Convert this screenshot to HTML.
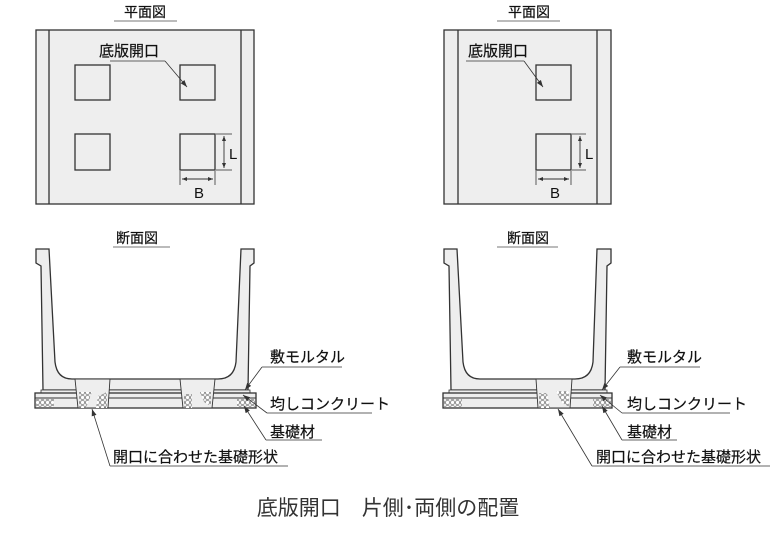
<!DOCTYPE html>
<html><head><meta charset="utf-8"><style>
html,body{margin:0;padding:0;background:#fff;width:784px;height:534px;overflow:hidden}
svg{display:block}
text{font-family:"Liberation Sans","Noto Sans CJK JP",sans-serif;fill:#111;stroke:none}
.t{stroke:#111;stroke-width:0.2}
</style></head><body>
<svg width="784" height="534" viewBox="0 0 784 534" xmlns="http://www.w3.org/2000/svg">
<defs>
<marker id="ar" markerWidth="8" markerHeight="8" refX="7" refY="4" orient="auto" markerUnits="userSpaceOnUse"><path d="M0,1.5 L7,4 L0,6.5 Z" fill="#333"/></marker>
<marker id="da" markerWidth="6" markerHeight="6" refX="5" refY="3" orient="auto-start-reverse" markerUnits="userSpaceOnUse"><path d="M0,1 L5,3 L0,5 Z" fill="#333"/></marker>
<pattern id="dots" width="5" height="5" patternUnits="userSpaceOnUse"><circle cx="2.5" cy="2.5" r="2" fill="#fff" stroke="#555" stroke-width="0.6"/></pattern>
</defs>
<g stroke="#333" stroke-width="1.3" fill="none">
<!-- left plan -->
<text class="t" x="145" y="17" font-size="14" text-anchor="middle">平面図</text>
<line x1="114" y1="21" x2="177" y2="21" stroke="#777" stroke-width="1"/>
<rect x="36" y="30" width="218" height="174" fill="#eeeeee"/>
<line x1="49" y1="30" x2="49" y2="204"/><line x1="241" y1="30" x2="241" y2="204"/>
<rect x="75" y="65" width="35" height="35"/><rect x="180" y="65" width="35" height="35"/>
<rect x="75" y="134" width="35" height="36"/><rect x="180" y="134" width="35" height="36"/>
<text class="t" x="99" y="56" font-size="15">底版開口</text>
<line x1="110" y1="61" x2="165" y2="61" stroke-width="0.8"/>
<line x1="165" y1="61" x2="187" y2="87" stroke-width="0.8" marker-end="url(#ar)"/>
<line x1="216" y1="134" x2="232" y2="134" stroke-width="0.8"/><line x1="216" y1="170" x2="232" y2="170" stroke-width="0.8"/>
<line x1="224" y1="136" x2="224" y2="168" stroke-width="0.9" marker-start="url(#da)" marker-end="url(#da)"/>
<text x="229" y="159" font-size="15">L</text>
<line x1="180" y1="171" x2="180" y2="185" stroke-width="0.8"/><line x1="215" y1="171" x2="215" y2="185" stroke-width="0.8"/>
<line x1="182" y1="179" x2="213" y2="179" stroke-width="0.9" marker-start="url(#da)" marker-end="url(#da)"/>
<text x="199" y="198" font-size="15" text-anchor="middle">B</text>

<!-- right plan -->
<text class="t" x="529" y="17" font-size="14" text-anchor="middle">平面図</text>
<line x1="497" y1="21" x2="560" y2="21" stroke="#777" stroke-width="1"/>
<rect x="444" y="30" width="167" height="174" fill="#eeeeee"/>
<line x1="458" y1="30" x2="458" y2="204"/><line x1="597" y1="30" x2="597" y2="204"/>
<rect x="536" y="65" width="35" height="35"/><rect x="536" y="134" width="35" height="36"/>
<text class="t" x="468" y="56" font-size="15">底版開口</text>
<line x1="466" y1="61" x2="524" y2="61" stroke-width="0.8"/>
<line x1="524" y1="61" x2="543" y2="87" stroke-width="0.8" marker-end="url(#ar)"/>
<line x1="572" y1="134" x2="586" y2="134" stroke-width="0.8"/><line x1="572" y1="170" x2="586" y2="170" stroke-width="0.8"/>
<line x1="580" y1="136" x2="580" y2="168" stroke-width="0.9" marker-start="url(#da)" marker-end="url(#da)"/>
<text x="585" y="159" font-size="15">L</text>
<line x1="536" y1="171" x2="536" y2="185" stroke-width="0.8"/><line x1="571" y1="171" x2="571" y2="185" stroke-width="0.8"/>
<line x1="538" y1="179" x2="569" y2="179" stroke-width="0.9" marker-start="url(#da)" marker-end="url(#da)"/>
<text x="555" y="198" font-size="15" text-anchor="middle">B</text>

<!-- left section -->
<text class="t" x="137" y="243" font-size="14" text-anchor="middle">断面図</text>
<line x1="113" y1="247" x2="170" y2="247" stroke="#777" stroke-width="1"/>
<path d="M36,249 L49,249 L55,362 Q57,379 72,379 L218,379 Q234,379 236,362 L241,249 L254,249 L254,263 L250,266 L248,390 L43,390 L41,266 L36,263 Z" fill="#eeeeee"/>
<rect x="41" y="390" width="209" height="3" fill="#eeeeee" stroke-width="0.8"/>
<rect x="35" y="393" width="221" height="15" fill="#eeeeee"/>
<line x1="35" y1="398" x2="256" y2="398" stroke-width="0.9"/>
<rect x="36" y="399" width="18" height="8" fill="url(#dots)" stroke="none"/>
<rect x="237" y="399" width="18" height="8" fill="url(#dots)" stroke="none"/>
<path d="M75,379 L78,408 L108,408 L110,379 Z" fill="#eeeeee" stroke-width="0.9"/>
<path d="M180,379 L183,408 L212,408 L215,379 Z" fill="#eeeeee" stroke-width="0.9"/>
<path d="M79,392 L92,392 L86,408 L79,408 Z" fill="url(#dots)" stroke="none"/>
<path d="M98,396 L107,392 L107,408 L96,408 Z" fill="url(#dots)" stroke="none"/>
<path d="M184,394 L192,394 L192,408 L184,408 Z" fill="url(#dots)" stroke="none"/>
<path d="M200,392 L211,392 L211,406 L204,402 Z" fill="url(#dots)" stroke="none"/>
<!-- left labels -->
<text class="t" x="270" y="362" font-size="15">敷モルタル</text>
<line x1="262" y1="367" x2="342" y2="367" stroke-width="0.8"/>
<line x1="262" y1="367" x2="245" y2="390" stroke-width="0.8" marker-end="url(#ar)"/>
<text class="t" x="270" y="409" font-size="15">均しコンクリート</text>
<line x1="267" y1="413" x2="372" y2="413" stroke-width="0.8"/>
<line x1="267" y1="413" x2="243" y2="395" stroke-width="0.8" marker-end="url(#ar)"/>
<text class="t" x="270" y="437" font-size="15">基礎材</text>
<line x1="266" y1="440" x2="322" y2="440" stroke-width="0.8"/>
<line x1="266" y1="440" x2="244" y2="406" stroke-width="0.8" marker-end="url(#ar)"/>
<text class="t" x="113" y="462" font-size="15">開口に合わせた基礎形状</text>
<line x1="110" y1="466" x2="288" y2="466" stroke-width="0.8"/>
<line x1="110" y1="466" x2="92" y2="409" stroke-width="0.8" marker-end="url(#ar)"/>

<!-- right section -->
<text class="t" x="528" y="243" font-size="14" text-anchor="middle">断面図</text>
<line x1="497" y1="247" x2="558" y2="247" stroke="#777" stroke-width="1"/>
<path d="M444,249 L457,249 L463,362 Q465,379 480,379 L575,379 Q591,379 593,362 L597,249 L611,249 L611,263 L607,266 L605,390 L451,390 L449,266 L444,263 Z" fill="#eeeeee"/>
<rect x="449" y="390" width="158" height="3" fill="#eeeeee" stroke-width="0.8"/>
<rect x="443" y="393" width="169" height="15" fill="#eeeeee"/>
<line x1="443" y1="398" x2="612" y2="398" stroke-width="0.9"/>
<rect x="444" y="399" width="18" height="8" fill="url(#dots)" stroke="none"/>
<rect x="593" y="399" width="18" height="8" fill="url(#dots)" stroke="none"/>
<path d="M536,379 L538,408 L570,408 L572,379 Z" fill="#eeeeee" stroke-width="0.9"/>
<path d="M539,393 L547,393 L550,408 L539,408 Z" fill="url(#dots)" stroke="none"/>
<path d="M556,391 L569,391 L569,407 L562,403 Z" fill="url(#dots)" stroke="none"/>
<text class="t" x="627" y="362" font-size="15">敷モルタル</text>
<line x1="620" y1="367" x2="700" y2="367" stroke-width="0.8"/>
<line x1="620" y1="367" x2="602" y2="390" stroke-width="0.8" marker-end="url(#ar)"/>
<text class="t" x="627" y="409" font-size="15">均しコンクリート</text>
<line x1="622" y1="413" x2="730" y2="413" stroke-width="0.8"/>
<line x1="622" y1="413" x2="600" y2="395" stroke-width="0.8" marker-end="url(#ar)"/>
<text class="t" x="627" y="437" font-size="15">基礎材</text>
<line x1="622" y1="440" x2="677" y2="440" stroke-width="0.8"/>
<line x1="622" y1="440" x2="602" y2="406" stroke-width="0.8" marker-end="url(#ar)"/>
<text class="t" x="596" y="462" font-size="15">開口に合わせた基礎形状</text>
<line x1="592" y1="466" x2="770" y2="466" stroke-width="0.8"/>
<line x1="592" y1="466" x2="558" y2="409" stroke-width="0.8" marker-end="url(#ar)"/>

<text x="388" y="515" font-size="21" text-anchor="middle" style="fill:#333;stroke:none">底版開口　片側･両側の配置</text>
</g>
</svg>
</body></html>
